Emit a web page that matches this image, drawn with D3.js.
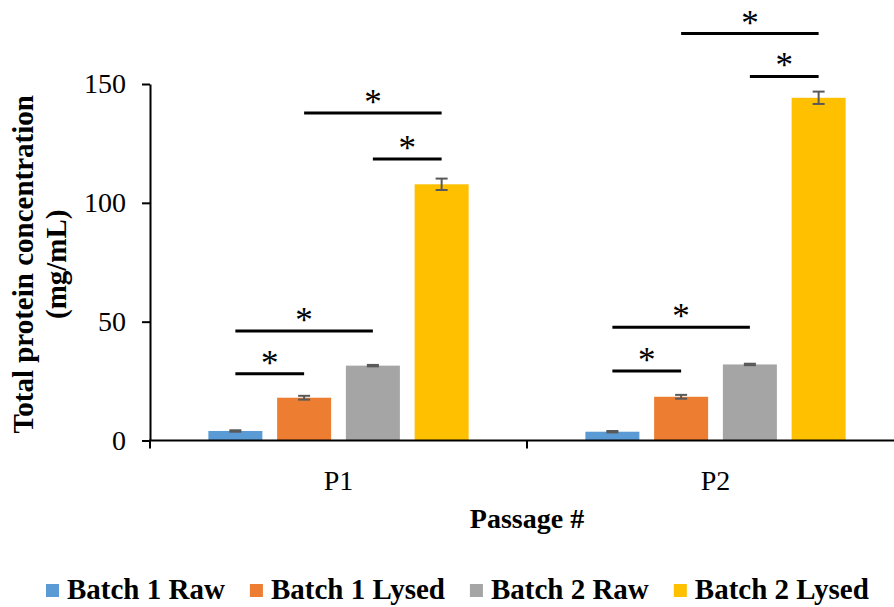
<!DOCTYPE html>
<html>
<head>
<meta charset="utf-8">
<script src="https://cdn.jsdelivr.net/npm/d3@7"></script>
<style>
  body { margin: 0; background: #fff; }
  text { font-family: "Liberation Serif", "Times New Roman", serif; }
</style>
</head>
<body>
<div id="container"></div>
<script>
// data
let categories = ["P1", "P2"];
let seriesNames = ["Batch 1 Raw", "Batch 1 Lysed", "Batch 2 Raw", "Batch 2 Lysed"];
let seriesColors = ["#5B9BD5", "#ED7D31", "#A5A5A5", "#FFC000"];
let batch1Raw = [4.0, 3.7];
let batch1Lysed = [18.0, 18.4];
let batch2Raw = [31.5, 32.0];
let batch2Lysed = [107.8, 144.2];
let batch1RawErr = [0.3, 0.3];
let batch1LysedErr = [0.8, 0.8];
let batch2RawErr = [0.3, 0.3];
let batch2LysedErr = [2.4, 2.6];
let yTicks = [0, 50, 100, 150];

// significance brackets: which two series, and at what height (mg/mL)
let sigPairs = [[0, 1], [0, 2], [2, 3], [1, 3]];
let sigLevelsP1 = [28.1, 46.1, 118.4, 137.8];
let sigLevelsP2 = [29.2, 47.6, 153.2, 171.2];

let values = [batch1Raw, batch1Lysed, batch2Raw, batch2Lysed];
let errors = [batch1RawErr, batch1LysedErr, batch2RawErr, batch2LysedErr];
let sigLevels = [sigLevelsP1, sigLevelsP2];

let w = 894;
let h = 607;
let plotLeft = 150;
let plotRight = 904; // the plot runs a bit past the right edge, as in the picture
let plotBottom = 440.5;
let plotTop = 84;

let viz = d3.select("#container")
  .append("svg")
    .attr("width", w)
    .attr("height", h)
;

let xScale = d3.scaleBand()
    .domain(categories)
    .range([plotLeft, plotRight])
    .padding(0)
;
let innerScale = d3.scaleBand()
    .domain(d3.range(seriesNames.length))
    .range([0, xScale.bandwidth()])
    .paddingInner(0.2145)
    .paddingOuter(0.849)
;
let yScale = d3.scaleLinear().domain([0, 150]).range([plotBottom, plotTop]);

// bars
let rows = [];
categories.forEach(function(c, ci){
  seriesNames.forEach(function(s, si){
    rows.push({cat: c, ci: ci, si: si, value: values[si][ci], err: errors[si][ci]});
  });
});

let graphGroup = viz.append("g").classed("graphGroup", true);
graphGroup.selectAll(".bar").data(rows).enter()
  .append("rect")
    .classed("bar", true)
    .attr("x", d => xScale(d.cat) + innerScale(d.si))
    .attr("width", innerScale.bandwidth())
    .attr("y", d => yScale(d.value))
    .attr("height", d => plotBottom - yScale(d.value))
    .attr("fill", d => seriesColors[d.si])
;

// error bars
let errGroups = graphGroup.selectAll(".err").data(rows).enter()
  .append("g")
    .classed("err", true)
    .attr("transform", d => "translate(" + (xScale(d.cat) + innerScale(d.si) + innerScale.bandwidth() / 2) + ",0)")
    .attr("stroke", "#595959")
    .attr("stroke-width", 2)
;
errGroups.append("line")
  .attr("x1", 0).attr("x2", 0)
  .attr("y1", d => yScale(d.value + d.err))
  .attr("y2", d => yScale(d.value - d.err));
errGroups.append("line")
  .attr("x1", -6).attr("x2", 6)
  .attr("y1", d => yScale(d.value + d.err))
  .attr("y2", d => yScale(d.value + d.err));
errGroups.append("line")
  .attr("x1", -6).attr("x2", 6)
  .attr("y1", d => yScale(d.value - d.err))
  .attr("y2", d => yScale(d.value - d.err));

// y axis
let yAxis = d3.axisLeft(yScale).tickValues(yTicks).tickSize(8).tickPadding(16).tickSizeOuter(0);
let yAxisGroup = viz.append("g").classed("yAxis", true)
  .attr("transform", "translate(" + plotLeft + ",0)")
  .call(yAxis);
yAxisGroup.select(".domain").attr("stroke", "#000").attr("stroke-width", 2);
yAxisGroup.selectAll("line").attr("stroke", "#000").attr("stroke-width", 2);
yAxisGroup.selectAll("text")
  .attr("font-size", 28)
  .attr("fill", "#000")
  .style("font-family", "Liberation Serif");

// x axis
let xAxisGroup = viz.append("g").classed("xAxis", true)
  .attr("transform", "translate(0," + plotBottom + ")");
xAxisGroup.append("line")
  .attr("x1", plotLeft - 1).attr("x2", plotRight)
  .attr("stroke", "#000").attr("stroke-width", 2);
xAxisGroup.selectAll(".xtick").data(xScale.domain().map(d => xScale(d)).concat([plotRight])).enter()
  .append("line")
    .attr("x1", d => d).attr("x2", d => d)
    .attr("y1", 0).attr("y2", 8)
    .attr("stroke", "#000").attr("stroke-width", 2);
xAxisGroup.selectAll(".xlabel").data(categories).enter()
  .append("text")
    .attr("x", d => xScale(d) + xScale.bandwidth() / 2)
    .attr("y", 49)
    .attr("text-anchor", "middle")
    .attr("font-size", 28)
    .text(d => d);

// axis titles
viz.append("text")
  .attr("x", (plotLeft + plotRight) / 2)
  .attr("y", 528)
  .attr("text-anchor", "middle")
  .attr("font-size", 28)
  .attr("font-weight", "bold")
  .text("Passage #");

let yTitle = viz.append("text")
  .attr("transform", "translate(33," + ((plotTop + plotBottom) / 2 + 2) + ") rotate(-90)")
  .attr("text-anchor", "middle")
  .attr("font-size", 29)
  .attr("font-weight", "bold");
yTitle.append("tspan").attr("x", 0).attr("dy", 0).text("Total protein concentration");
yTitle.append("tspan").attr("x", 0).attr("dy", 33).text("(mg/mL)");

// significance brackets
let sigRows = [];
categories.forEach(function(c, ci){
  sigPairs.forEach(function(p, k){
    sigRows.push({cat: c, a: p[0], b: p[1], level: sigLevels[ci][k]});
  });
});
let barMid = (cat, si) => xScale(cat) + innerScale(si) + innerScale.bandwidth() / 2;
let sigGroup = viz.append("g").classed("sig", true);
sigGroup.selectAll("line").data(sigRows).enter()
  .append("line")
    .attr("x1", d => barMid(d.cat, d.a))
    .attr("x2", d => barMid(d.cat, d.b))
    .attr("y1", d => yScale(d.level))
    .attr("y2", d => yScale(d.level))
    .attr("stroke", "#000")
    .attr("stroke-width", 3);
sigGroup.selectAll("text").data(sigRows).enter()
  .append("text")
    .attr("x", d => (barMid(d.cat, d.a) + barMid(d.cat, d.b)) / 2)
    .attr("y", d => yScale(d.level) + 1)
    .attr("text-anchor", "middle")
    .attr("font-size", 35)
    .text("*");

// legend
let legend = viz.append("g").classed("legend", true);
let lx = 46;
seriesNames.forEach(function(s, i){
  legend.append("rect")
    .attr("x", lx).attr("y", 584)
    .attr("width", 13).attr("height", 13)
    .attr("fill", seriesColors[i]);
  let t = legend.append("text")
    .attr("x", lx + 21).attr("y", 599)
    .attr("font-size", 29)
    .attr("font-weight", "bold")
    .text(s);
  lx = lx + 21 + t.node().getComputedTextLength() + 25;
});
</script>
</body>
</html>
